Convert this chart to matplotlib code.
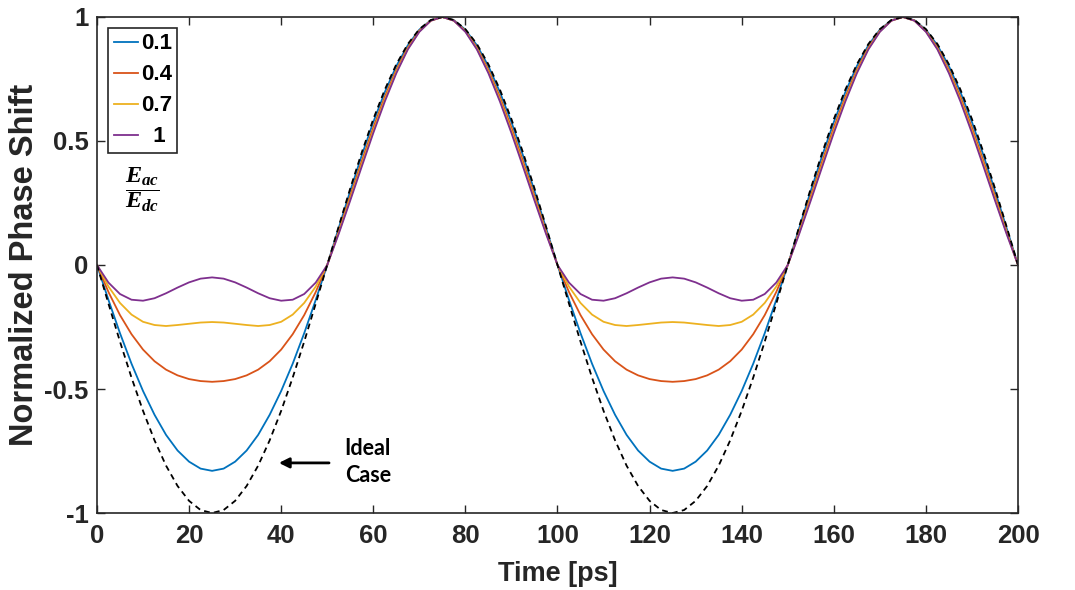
import matplotlib
matplotlib.use("Agg")
import matplotlib.pyplot as plt

# MATLAB default line colours
BLUE = "#0072BD"
ORANGE = "#D95319"
YELLOW = "#EDB120"
PURPLE = "#7E2F8E"
AXIS = "#262626"

plt.rcParams["font.family"] = ["Liberation Sans", "DejaVu Sans"]
plt.rcParams["mathtext.fontset"] = "custom"
plt.rcParams["mathtext.it"] = "Liberation Serif:italic:bold"
plt.rcParams["mathtext.rm"] = "Liberation Serif:bold"

# time axis, 2.5 ps step
time_ps = [i * 2.5 for i in range(81)]

# values (two identical periods)
ideal = [
    0, -0.156, -0.309, -0.454, -0.588, -0.707, -0.809, -0.891, -0.951, -0.988,
    -1, -0.988, -0.951, -0.891, -0.809, -0.707, -0.588, -0.454, -0.309, -0.156,
    0, 0.156, 0.309, 0.454, 0.588, 0.707, 0.809, 0.891, 0.951, 0.988,
    1, 0.988, 0.951, 0.891, 0.809, 0.707, 0.588, 0.454, 0.309, 0.156,
    0, -0.156, -0.309, -0.454, -0.588, -0.707, -0.809, -0.891, -0.951, -0.988,
    -1, -0.988, -0.951, -0.891, -0.809, -0.707, -0.588, -0.454, -0.309, -0.156,
    0, 0.156, 0.309, 0.454, 0.588, 0.707, 0.809, 0.891, 0.951, 0.988,
    1, 0.988, 0.951, 0.891, 0.809, 0.707, 0.588, 0.454, 0.309, 0.156,
    0,
]
r01 = [
    0, -0.141, -0.275, -0.398, -0.508, -0.604, -0.685, -0.748, -0.793, -0.821,
    -0.830, -0.821, -0.793, -0.748, -0.685, -0.604, -0.508, -0.398, -0.275, -0.141,
    0, 0.150, 0.299, 0.442, 0.576, 0.697, 0.802, 0.886, 0.949, 0.987,
    1, 0.987, 0.949, 0.886, 0.802, 0.697, 0.576, 0.442, 0.299, 0.150,
    0, -0.141, -0.275, -0.398, -0.508, -0.604, -0.685, -0.748, -0.793, -0.821,
    -0.830, -0.821, -0.793, -0.748, -0.685, -0.604, -0.508, -0.398, -0.275, -0.141,
    0, 0.150, 0.299, 0.442, 0.576, 0.697, 0.802, 0.886, 0.949, 0.987,
    1, 0.987, 0.949, 0.886, 0.802, 0.697, 0.576, 0.442, 0.299, 0.150,
    0,
]
r04 = [
    0, -0.109, -0.202, -0.279, -0.341, -0.388, -0.422, -0.445, -0.460, -0.468,
    -0.471, -0.468, -0.460, -0.445, -0.422, -0.388, -0.341, -0.279, -0.202, -0.109,
    0, 0.138, 0.279, 0.419, 0.554, 0.678, 0.787, 0.877, 0.945, 0.986,
    1, 0.986, 0.945, 0.877, 0.787, 0.678, 0.554, 0.419, 0.279, 0.138,
    0, -0.109, -0.202, -0.279, -0.341, -0.388, -0.422, -0.445, -0.460, -0.468,
    -0.471, -0.468, -0.460, -0.445, -0.422, -0.388, -0.341, -0.279, -0.202, -0.109,
    0, 0.138, 0.279, 0.419, 0.554, 0.678, 0.787, 0.877, 0.945, 0.986,
    1, 0.986, 0.945, 0.877, 0.787, 0.678, 0.554, 0.419, 0.279, 0.138,
    0,
]
r07 = [
    0, -0.087, -0.153, -0.200, -0.229, -0.242, -0.246, -0.242, -0.237, -0.232,
    -0.230, -0.232, -0.237, -0.242, -0.246, -0.242, -0.229, -0.200, -0.153, -0.087,
    0, 0.131, 0.268, 0.406, 0.541, 0.667, 0.779, 0.872, 0.942, 0.985,
    1, 0.985, 0.942, 0.872, 0.779, 0.667, 0.541, 0.406, 0.268, 0.131,
    0, -0.087, -0.153, -0.200, -0.229, -0.242, -0.246, -0.242, -0.237, -0.232,
    -0.230, -0.232, -0.237, -0.242, -0.246, -0.242, -0.229, -0.200, -0.153, -0.087,
    0, 0.131, 0.268, 0.406, 0.541, 0.667, 0.779, 0.872, 0.942, 0.985,
    1, 0.985, 0.942, 0.872, 0.779, 0.667, 0.541, 0.406, 0.268, 0.131,
    0,
]
r10 = [
    0, -0.071, -0.117, -0.140, -0.144, -0.134, -0.114, -0.091, -0.070, -0.055,
    -0.050, -0.055, -0.070, -0.091, -0.114, -0.134, -0.144, -0.140, -0.117, -0.071,
    0, 0.126, 0.260, 0.397, 0.532, 0.659, 0.773, 0.869, 0.940, 0.985,
    1, 0.985, 0.940, 0.869, 0.773, 0.659, 0.532, 0.397, 0.260, 0.126,
    0, -0.071, -0.117, -0.140, -0.144, -0.134, -0.114, -0.091, -0.070, -0.055,
    -0.050, -0.055, -0.070, -0.091, -0.114, -0.134, -0.144, -0.140, -0.117, -0.071,
    0, 0.126, 0.260, 0.397, 0.532, 0.659, 0.773, 0.869, 0.940, 0.985,
    1, 0.985, 0.940, 0.869, 0.773, 0.659, 0.532, 0.397, 0.260, 0.126,
    0,
]

series = [r01, r04, r07, r10]
labels = ["0.1", "0.4", "0.7", "  1"]
colors = [BLUE, ORANGE, YELLOW, PURPLE]

x_ticks = list(range(0, 201, 20))
y_ticks = [-1, -0.5, 0, 0.5, 1]
y_tick_labels = ["-1", "-0.5", "0", "0.5", "1"]

fig = plt.figure(figsize=(10.75, 5.9), dpi=100)
ax = fig.add_axes([0.0902, 0.1305, 0.8568, 0.8407])

for vals, lab, col in zip(series, labels, colors):
    ax.plot(time_ps, vals, color=col, linewidth=1.3, label=lab)
ax.plot(time_ps, ideal, color="black", linewidth=1.3, linestyle=(0, (3.2, 2.4)))

ax.set_xlim(0, 200)
ax.set_ylim(-1, 1)
ax.set_xticks(x_ticks)
ax.set_xticklabels([str(t) for t in x_ticks])
ax.set_yticks(y_ticks)
ax.set_yticklabels(y_tick_labels)

ax.tick_params(axis="both", direction="in", length=6, width=1, colors=AXIS,
               top=True, right=True, labelsize=18.5)
ax.tick_params(axis="x", pad=8)
ax.tick_params(axis="y", pad=6)
for lbl in ax.get_xticklabels() + ax.get_yticklabels():
    lbl.set_fontweight("bold")
for sp in ax.spines.values():
    sp.set_color(AXIS)
    sp.set_linewidth(1.2)

ax.set_xlabel("Time [ps]", fontsize=19.5, fontweight="bold", color=AXIS, labelpad=9)
ax.set_ylabel("Normalized Phase Shift", fontsize=23.5, fontweight="bold", color=AXIS, labelpad=3)

leg = ax.legend(loc="upper left", bbox_to_anchor=(0.012, 0.978), borderaxespad=0,
                fancybox=False, framealpha=1, edgecolor=AXIS,
                prop={"weight": "bold", "size": 16}, handlelength=1.1,
                handletextpad=0.12, labelspacing=0.45, borderpad=0.25)
leg.get_frame().set_linewidth(1.2)

# Eac/Edc fraction under the legend
ax.text(0.049, 0.652, r"$\dfrac{E_{ac}}{E_{dc}}$", transform=ax.transAxes,
        fontsize=17.5, ha="center", va="center", color="black")

# Ideal case annotation
ax.annotate("", xy=(38.9, -0.798), xytext=(51, -0.798),
            arrowprops=dict(arrowstyle="-|>", color="black", lw=2, mutation_scale=15))
ax.text(58.8, -0.795, "Ideal\nCase", fontsize=15.5, fontweight="bold", family=["Lato", "DejaVu Sans"],
        ha="center", va="center", linespacing=1.35, color="black")

fig.savefig("out.png", dpi=100, facecolor="white")
